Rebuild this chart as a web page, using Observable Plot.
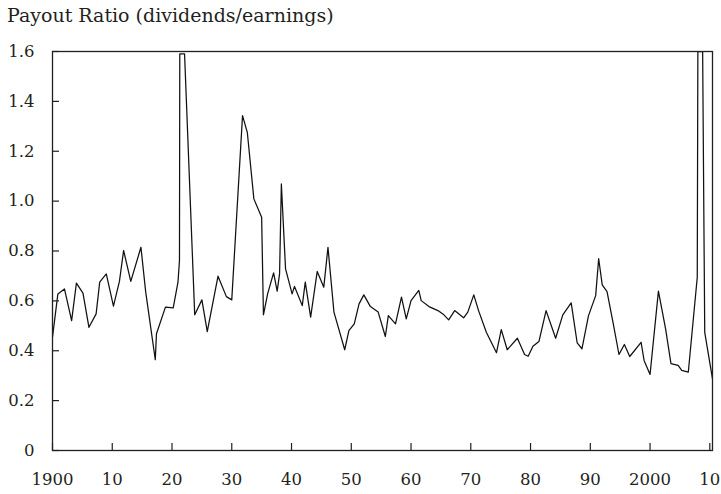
<!DOCTYPE html>
<html><head><meta charset="utf-8">
<script src="https://cdn.jsdelivr.net/npm/d3@7"></script>
<script src="https://cdn.jsdelivr.net/npm/@observablehq/plot@0.6"></script>
<style>
body{margin:0;background:#fff;}
#title{font-family:"DejaVu Serif";font-size:19px;line-height:30px;height:30px;padding-left:7px;color:#231f20;white-space:nowrap;}
</style></head><body>
<div id="title">Payout Ratio (dividends/earnings)</div>
<div id="chart"></div>
<script>
// Payout ratio (vertex positions in years)
const years = [
 1900.0,1900.9,1902.0,1903.2,1904.0,1905.1,1906.1,1907.3,1907.9,1909.0,
 1910.2,1911.2,1911.9,1913.1,1914.8,1915.6,1917.2,1917.4,1918.9,1920.2,
 1921.0,1921.25,1921.3,1922.1,1923.8,1925.0,1925.9,1927.7,1929.1,1930.0,
 1931.8,1932.6,1933.7,1935.0,1935.3,1936.0,1937.0,1937.6,1938.0,1938.3,
 1939.0,1940.1,1940.5,1941.8,1942.3,1943.2,1944.3,1945.4,1946.1,1947.1,
 1948.9,1949.6,1950.5,1951.3,1952.1,1953.2,1954.5,1955.7,1956.2,1957.4,
 1958.4,1959.2,1960.0,1961.3,1961.7,1963.0,1964.5,1965.5,1966.3,1967.3,
 1968.8,1969.5,1970.5,1971.3,1972.6,1974.3,1975.1,1976.1,1977.8,1979.0,
 1979.6,1980.4,1981.4,1982.6,1984.2,1985.4,1986.8,1987.8,1988.6,1989.7,
 1990.9,1991.4,1992.0,1992.8,1993.8,1994.8,1995.7,1996.6,1998.5,1999.0,
 2000.0,2001.4,2002.6,2003.5,2004.7,2005.3,2006.4,2007.9,2008.0,2008.8,
 2009.15,2010.45
];
const payout = [
 0.454,0.628,0.648,0.521,0.671,0.631,0.494,0.548,0.675,0.708,
 0.579,0.678,0.802,0.678,0.815,0.635,0.364,0.468,0.575,0.572,
 0.675,0.762,1.59,1.59,0.544,0.604,0.477,0.699,0.617,0.604,
 1.343,1.276,1.009,0.935,0.544,0.628,0.712,0.639,0.708,1.069,
 0.728,0.628,0.658,0.581,0.675,0.535,0.718,0.655,0.815,0.555,
 0.404,0.481,0.508,0.588,0.624,0.577,0.555,0.457,0.541,0.508,
 0.615,0.528,0.601,0.642,0.601,0.577,0.561,0.544,0.524,0.561,
 0.532,0.555,0.624,0.561,0.474,0.392,0.485,0.404,0.450,0.385,
 0.378,0.418,0.437,0.561,0.450,0.544,0.592,0.432,0.408,0.541,
 0.621,0.769,0.664,0.637,0.514,0.385,0.425,0.377,0.434,0.361,
 0.305,0.639,0.488,0.348,0.341,0.321,0.314,0.695,1.6,1.6,
 0.474,0.287
];
const xTicks = [1900,1910,1920,1930,1940,1950,1960,1970,1980,1990,2000,2010];
const xTickLabels = ["1900","10","20","30","40","50","60","70","80","90","2000","10"];
const yTicks = [0,0.2,0.4,0.6,0.8,1.0,1.2,1.4,1.6];
const yTickLabels = ["0","0.2","0.4","0.6","0.8","1.0","1.2","1.4","1.6"];

const data = years.map((y, i) => ({year: y, ratio: payout[i]}));
const xLab = new Map(xTicks.map((t, i) => [t, xTickLabels[i]]));
const yLab = new Map(yTicks.map((t, i) => [t, yTickLabels[i]]));
const ink = "#231f20";

const W = 721, H = 464, mT = 21, mB = 44, mL = 52, mR = 9;
const innerH = H - mT - mB, innerW = W - mL - mR;

const chart = Plot.plot({
  width: W, height: H,
  marginTop: mT, marginBottom: mB, marginLeft: mL, marginRight: mR,
  style: {fontFamily: "DejaVu Serif", fontSize: "16.5px", color: ink, background: "#fff"},
  x: {domain: [1900, 2010.45]},
  y: {domain: [0, 1.6]},
  marks: [
    Plot.line(data, {x: "year", y: "ratio", stroke: "#111", strokeWidth: 1.25, clip: true}),
    Plot.tickX(xTicks, {x: d => d, insetTop: innerH - 7, stroke: ink, strokeWidth: 1.2}),
    Plot.tickY(yTicks, {y: d => d, insetRight: innerW - 7, stroke: ink, strokeWidth: 1.2}),
    Plot.frame({stroke: ink, strokeWidth: 1.3}),
    Plot.axisX(xTicks, {tickSize: 0, tickPadding: 23, tickFormat: d => xLab.get(d), label: null, fill: ink}),
    Plot.axisY(yTicks, {tickSize: 0, tickPadding: 18, tickFormat: d => yLab.get(d), label: null, fill: ink})
  ]
});
document.getElementById("chart").appendChild(chart);
</script>
</body></html>
